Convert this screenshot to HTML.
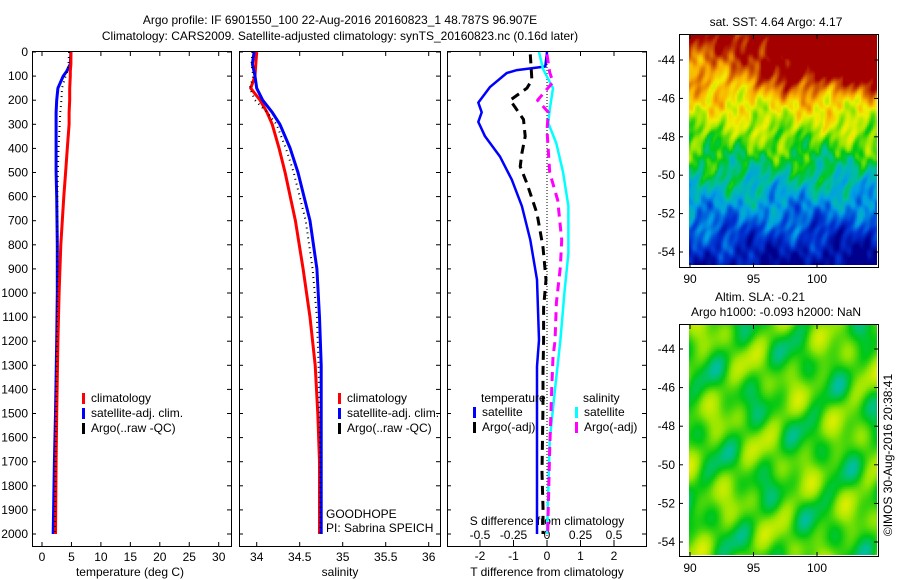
<!DOCTYPE html>
<html><head><meta charset="utf-8">
<style>
html,body{margin:0;padding:0;background:#fff;}
svg{display:block;font-family:"Liberation Sans",Arial,sans-serif;font-size:12px;}
canvas{position:absolute;}
</style></head>
<body>
<div style="position:relative;width:900px;height:580px;">
<canvas id="sstmap" width="188" height="230" style="left:689px;top:35px;"></canvas>
<canvas id="slamap" width="188" height="230" style="left:689px;top:325px;"></canvas>
<svg id="fig" width="900" height="580" style="position:absolute;left:0;top:0;"></svg>
</div>
<script>
// ---------- data ----------
const tDepth   = [0, 50, 80, 100, 150, 200, 250, 300, 400, 500, 600, 800, 1000, 1200, 1500, 1700, 2000];
const tClim    = [4.9, 4.9, 4.8, 4.8, 4.7, 4.7, 4.6, 4.6, 4.3, 4.0, 3.7, 3.2, 2.9, 2.7, 2.5, 2.4, 2.3];
const tSat     = [4.9, 4.8, 4.2, 3.6, 2.7, 2.5, 2.4, 2.4, 2.4, 2.4, 2.5, 2.6, 2.6, 2.5, 2.3, 2.1, 1.9];
const tArgo    = [4.6, 4.5, 4.3, 4.0, 3.4, 3.3, 3.1, 3.0, 2.8, 2.7, 2.6, 2.6, 2.6, 2.5, 2.4, 2.3, 2.2];
const sDepth   = [0, 50, 100, 150, 200, 250, 300, 400, 500, 700, 900, 1100, 1300, 1500, 1700, 2000];
const sClim    = [34.0, 33.99, 33.98, 33.93, 34.04, 34.12, 34.18, 34.26, 34.33, 34.45, 34.54, 34.62, 34.68, 34.71, 34.73, 34.73];
const sSat     = [33.97, 33.95, 33.98, 34.0, 34.07, 34.18, 34.27, 34.39, 34.48, 34.62, 34.70, 34.73, 34.75, 34.75, 34.75, 34.75];
const sArgo    = [33.95, 33.94, 33.96, 33.92, 33.98, 34.12, 34.23, 34.34, 34.43, 34.57, 34.65, 34.70, 34.72, 34.73, 34.74, 34.74];
const dtSatDepth = [0, 60, 75, 87, 145, 210, 250, 290, 350, 435, 530, 640, 780, 945, 1195, 1305, 1600, 2000];
const dtSat      = [0, -0.05, -0.9, -1.2, -1.7, -2.05, -1.95, -2.05, -1.85, -1.4, -1.05, -0.75, -0.5, -0.3, -0.24, -0.3, -0.3, -0.3];
const dtArgoDepth = [10, 116, 150, 200, 230, 280, 350, 420, 475, 545, 670, 810, 945, 1060, 1195, 1330, 1470, 1745, 1890, 2000];
const dtArgo      = [-0.5, -0.45, -0.6, -1.1, -0.95, -0.7, -0.65, -0.75, -0.8, -0.6, -0.3, -0.12, -0.03, -0.1, -0.1, -0.12, -0.12, -0.15, -0.12, -0.12];
const dsSatDepth = [0, 70, 150, 240, 295, 380, 500, 640, 835, 1000, 1195, 1400, 1610, 1820, 2000];
const dsSat      = [-0.06, -0.03, 0.045, 0.02, 0.01, 0.07, 0.12, 0.16, 0.16, 0.13, 0.1, 0.06, 0.02, 0.01, 0.0];
const dsArgoDepth = [10, 85, 125, 200, 250, 325, 500, 615, 780, 890, 1040, 1200, 1265, 1400, 1650, 1890, 2000];
const dsArgo      = [0.0, 0.02, 0.045, -0.07, 0.01, 0.0, 0.02, 0.08, 0.11, 0.1, 0.07, 0.06, 0.045, 0.035, 0.02, 0.01, 0.005];
const depthTicks = [0,100,200,300,400,500,600,700,800,900,1000,1100,1200,1300,1400,1500,1600,1700,1800,1900,2000];
const tTicks = [0,5,10,15,20,25,30];
const sTicks = [34,34.5,35,35.5,36];
const dTTicks = [-2,-1,0,1,2];
const dSTicks = [-0.5,-0.25,0,0.25,0.5];
const dSTickLabels = ['-0.5','-0.25','0','0.25','0.5'];
const latTicks = [-44,-46,-48,-50,-52,-54];
const lonTicks = [90,95,100];

// ---------- helpers ----------
const NS='http://www.w3.org/2000/svg';
const svg=document.getElementById('fig');
function mk(tag,attrs,parent){const e=document.createElementNS(NS,tag);for(const k in attrs)e.setAttribute(k,attrs[k]);(parent||svg).appendChild(e);return e;}
function txt(x,y,s,anchor,parent){const e=mk('text',{x:x,y:y,'text-anchor':anchor||'start',fill:'#000'},parent);e.textContent=s;return e;}
const Y0=52, YS=482/2000;
function yD(d){return Y0+d*YS;}
function xT(v){return 42+v*5.89;}
function xS(v){return 256.7+(v-34)*86;}
function xdT(v){return 547+v*33.5;}
function xdS(v){return 547+v*134;}
function line(xs,ys,fx,color,w,dash,name){
  const pts=xs.map((v,i)=>fx(v).toFixed(1)+','+yD(ys[i]).toFixed(1)).join(' ');
  const p=mk('polyline',{points:pts,fill:'none',stroke:color,'stroke-width':w,'stroke-linejoin':'round'});
  if(dash)p.setAttribute('stroke-dasharray',dash);
  
  
  return p;
}
function box(x1,x2,y1,y2,name){
  const r=mk('rect',{x:x1,y:y1,width:x2-x1,height:y2-y1,fill:'none',stroke:'#000','stroke-width':1});
  
  
}
const PB=546;
// title
const t1=txt(340,24,'Argo profile: IF 6901550_100 22-Aug-2016 20160823_1 48.787S 96.907E','middle');

const t2=txt(340,40,'Climatology: CARS2009. Satellite-adjusted climatology: synTS_20160823.nc (0.16d later)','middle');


// panels
const panels=[[32,231,'temperature-panel'],[239,440,'salinity-panel'],[447,646,'difference-panel']];
panels.forEach(p=>{
  box(p[0]+.5,p[1]+.5,Y0-.5,PB+.5,p[2]);
  depthTicks.forEach(d=>{const y=yD(d);
    mk('line',{x1:p[0],x2:p[0]+4,y1:y,y2:y,stroke:'#000'});
    mk('line',{x1:p[1]-4,x2:p[1],y1:y,y2:y,stroke:'#000'});});
});
depthTicks.forEach(d=>{const e=txt(28,yD(d)+4,String(d),'end');
  });
tTicks.forEach(v=>{const x=xT(v);mk('line',{x1:x,x2:x,y1:PB,y2:PB-4,stroke:'#000'});mk('line',{x1:x,x2:x,y1:Y0,y2:Y0+4,stroke:'#000'});
  const e=txt(x,561,String(v),'middle');});
sTicks.forEach(v=>{const x=xS(v);mk('line',{x1:x,x2:x,y1:PB,y2:PB-4,stroke:'#000'});mk('line',{x1:x,x2:x,y1:Y0,y2:Y0+4,stroke:'#000'});
  const e=txt(x,561,String(v),'middle');});
dTTicks.forEach(v=>{const x=xdT(v);mk('line',{x1:x,x2:x,y1:PB,y2:PB-4,stroke:'#000'});mk('line',{x1:x,x2:x,y1:Y0,y2:Y0+4,stroke:'#000'});
  const e=txt(x,560,String(v),'middle');});
dSTicks.forEach((v,i)=>{const x=xdS(v);mk('line',{x1:x,x2:x,y1:540,y2:544,stroke:'#000'});
  const e=txt(x,539,dSTickLabels[i],'middle');});
[['temperature (deg C)',130,'temperature-axis-title'],['salinity',340,'salinity-axis-title'],['T difference from climatology',547,'t-diff-axis-title']].forEach(a=>{
  const e=txt(a[1],576,a[0],'middle');});
const sdt=txt(547,525,'S difference from climatology','middle');

// zero line panel 3
const zl=mk('line',{x1:547,x2:547,y1:Y0,y2:PB,stroke:'#000','stroke-dasharray':'1 2'});


// series
line(tSat,tDepth,xT,'#00f',3,null,'temperature-satellite-line');
line(tClim,tDepth,xT,'#f00',3,null,'temperature-climatology-line');
line(tArgo,tDepth,xT,'#000',2,'1 4','temperature-argo-line');
line(sClim,sDepth,xS,'#f00',3,null,'salinity-climatology-line');
line(sSat,sDepth,xS,'#00f',3,null,'salinity-satellite-line');
line(sArgo,sDepth,xS,'#000',2,'1 4','salinity-argo-line');
line(dtSat,dtSatDepth,xdT,'#00f',2.5,null,'t-diff-satellite-line');
line(dtArgo,dtArgoDepth,xdT,'#000',3,'9 6','t-diff-argo-line');
line(dsSat,dsSatDepth,xdS,'#0ff',2.5,null,'s-diff-satellite-line');
line(dsArgo,dsArgoDepth,xdS,'#f0f',3,'9 6','s-diff-argo-line');

// legends
function leg(x,y,color,label,name){
  mk('rect',{x:x,y:y-9,width:3,height:11,fill:color});
  const e=txt(x+9,y,label);
  
}
leg(82,402,'#f00','climatology','legend-climatology');
leg(82,417,'#00f','satellite-adj. clim.','legend-satellite');
leg(82,432,'#000','Argo(..raw -QC)','legend-argo');
leg(338,402,'#f00','climatology','legend-climatology-2');
leg(338,417,'#00f','satellite-adj. clim.','legend-satellite-2');
leg(338,432,'#000','Argo(..raw -QC)','legend-argo-2');
const lt=txt(481,402,'temperature');
const ls=txt(583,402,'salinity');
leg(473,416,'#00f','satellite','legend-t-satellite');
leg(473,431,'#000','Argo(-adj)','legend-t-argo');
leg(575,416,'#0ff','satellite','legend-s-satellite');
leg(575,431,'#f0f','Argo(-adj)','legend-s-argo');
const g1=txt(326,518,'GOODHOPE');
const g2=txt(326,532,'PI: Sabrina SPEICH');

// maps axes
function mapAxes(top,bot,lat44,lat54,name){
  box(679.5,878.5,top-.5,bot+.5,name);
  const s=(lat54-lat44)/10;
  latTicks.forEach(l=>{const y=lat44+(-44-l)*s;
    mk('line',{x1:679,x2:683,y1:y,y2:y,stroke:'#000'});mk('line',{x1:874,x2:878,y1:y,y2:y,stroke:'#000'});
    const e=txt(675,y+4,String(l),'end');});
  lonTicks.forEach(l=>{const x=690+(l-90)*12.7;
    mk('line',{x1:x,x2:x,y1:bot,y2:bot-4,stroke:'#000'});mk('line',{x1:x,x2:x,y1:top,y2:top+4,stroke:'#000'});
    const e=txt(x,bot+16,String(l),'middle');});
}
mapAxes(35,267,60,252,'sst-map-frame');
mapAxes(325,556,349,542,'sla-map-frame');
const m1=txt(776,26,'sat. SST: 4.64  Argo: 4.17','middle');
const m2=txt(760,301,'Altim. SLA: -0.21','middle');
const m3=txt(776,316,'Argo h1000: -0.093 h2000: NaN','middle');
const cr=txt(0,0,'©IMOS 30-Aug-2016 20:38:41','middle');cr.setAttribute('transform','translate(892,455) rotate(-90)');


// ---------- map rendering (texture) ----------
const cmStops=[[0,[0,0,140]],[0.15,[0,50,210]],[0.3,[0,160,230]],[0.4,[0,190,160]],[0.5,[0,200,20]],[0.6,[150,230,0]],[0.7,[240,240,0]],[0.8,[250,170,0]],[0.88,[215,105,0]],[1,[165,0,0]]];
function cmap(v){v=Math.max(0,Math.min(1,v));
  for(let i=1;i<cmStops.length;i++){if(v<=cmStops[i][0]){const a=cmStops[i-1],b=cmStops[i],f=(v-a[0])/(b[0]-a[0]);
    return a[1].map((c,k)=>Math.round(c+(b[1][k]-c)*f));}}
  return cmStops[cmStops.length-1][1];}
function clamp01(v){return Math.max(0,Math.min(1,v));}
function drawMap(id,fn){
  const c=document.getElementById(id).getContext('2d');
  for(let y=0;y<230;y+=2)for(let x=0;x<188;x+=2){
    const col=cmap(fn(x/188,y/230));c.fillStyle='rgb('+col.join(',')+')';c.fillRect(x,y,2,2);}
}
drawMap('sstmap',(s,t)=>{
  const n=0.05*Math.sin(40*s+27*t)+0.045*Math.sin(13*s-21*t)+0.035*Math.sin(70*s+5*t+Math.sin(30*t)*3)+0.025*Math.sin(120*s+40*t);
  let v=0.97-0.9*t+0.1*s*(1-2*t)+n;
  v+=0.2*clamp01((s-0.3)*4)*clamp01((0.28-t)*8);
  return v;
});
drawMap('slamap',(s,t)=>{
  const n=0.09*Math.sin(18*s+14*t)+0.08*Math.sin(11*s-19*t+1)+0.07*Math.sin(25*s+30*t+2)+0.05*Math.sin(40*s-8*t);
  return 0.54+0.55*n;
});
</script>
</body></html>
